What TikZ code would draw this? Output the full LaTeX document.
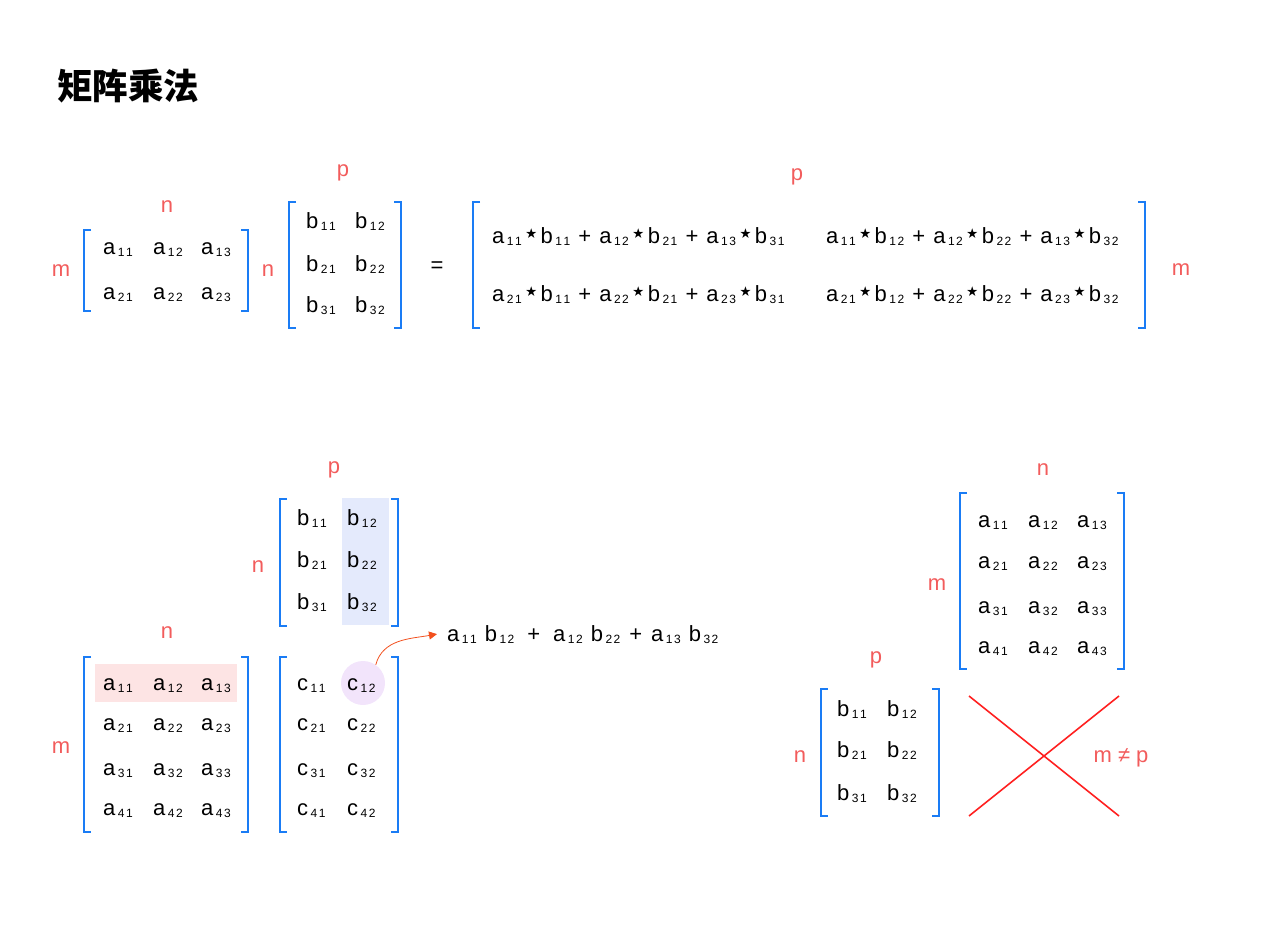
\documentclass[tikz,border=0pt]{standalone}
\usepackage{fontspec}
\setmainfont{Liberation Sans}
\newfontfamily\cjk{Noto Sans CJK SC}
\newfontfamily\symfont{DejaVu Sans}
\usetikzlibrary{arrows.meta}

\definecolor{bracketblue}{HTML}{1A7CF5}
\definecolor{labred}{HTML}{F25C5C}
\definecolor{rowred}{HTML}{FDE4E4}
\definecolor{colblue}{HTML}{E4EAFC}
\definecolor{pickpurple}{HTML}{F2E4FB}
\definecolor{linkred}{HTML}{F2501E}
\definecolor{crossred}{HTML}{FF2020}

\newcommand{\subsz}{\fontsize{12}{12}\selectfont}
\newcommand{\ent}[3]{#1\hspace{2.5pt}\raisebox{-2pt}{\subsz #2\hspace{1.5pt}#3}}
\newcommand{\mul}{\hspace{1pt}{\symfont\raisebox{0.5pt}{\fontsize{27}{27}\selectfont ⋆}}\hspace{1pt}}
\newcommand{\plus}{\hspace{2pt} + \hspace{2pt}}
% both brackets of a matrix: left x, top y, right x, bottom y
\newcommand{\brackets}[4]{%
	\draw[bracket] (#1+7,#2) -- (#1,#2) -- (#1,#4) -- (#1+7,#4);
	\draw[bracket] (#3-7,#2) -- (#3,#2) -- (#3,#4) -- (#3-7,#4);
}

\begin{document}
\begin{tikzpicture}[
				x=1pt, y=-1pt,
				bracket/.style={
					draw=bracketblue,
					line width=2pt
				},
				entry/.style={
					anchor=base west,
					inner sep=0pt,
					font=\fontsize{22}{26}\selectfont
				},
				dimlabel/.style={
					anchor=center,
					inner sep=0pt,
					text=labred,
					font=\fontsize{22}{26}\selectfont
				},
				link/.style={
					-{Triangle[length=8pt,width=8pt]},
					draw=linkred,
					line width=0.8pt
				},
				cross/.style={
					draw=crossred,
					line width=1.6pt
				}
				]
				
				\useasboundingbox (0,0) rectangle (1273,947);
				
				\node[anchor=west, inner sep=0pt, font=\cjk\bfseries\fontsize{35.5}{40}\selectfont] (title) at (57,86) {矩阵乘法};
				
				% top row: A times B
				\brackets{84}{230}{248}{311}
				\brackets{289}{202}{401}{328}
				\brackets{473}{202}{1145}{328}
				
				\node[dimlabel] (tan) at (167,207) {n};
				\node[dimlabel] (tam) at (61,271) {m};
				\node[dimlabel] (tbn) at (268,271) {n};
				\node[dimlabel] (tbp) at (343,173) {p};
				\node[dimlabel, text=black] (eq) at (437,267) {=};
				\node[dimlabel] (tcp) at (797,177) {p};
				\node[dimlabel] (tcm) at (1181,270) {m};
				
				\node[entry] (ta11) at (103,254) {\ent{a}{1}{1}};
				\node[entry] (ta12) at (153,254) {\ent{a}{1}{2}};
				\node[entry] (ta13) at (201,254) {\ent{a}{1}{3}};
				\node[entry] (ta21) at (103,299) {\ent{a}{2}{1}};
				\node[entry] (ta22) at (153,299) {\ent{a}{2}{2}};
				\node[entry] (ta23) at (201,299) {\ent{a}{2}{3}};
				
				\node[entry] (tb11) at (306,228) {\ent{b}{1}{1}};
				\node[entry] (tb12) at (355,228) {\ent{b}{1}{2}};
				\node[entry] (tb21) at (306,271) {\ent{b}{2}{1}};
				\node[entry] (tb22) at (355,271) {\ent{b}{2}{2}};
				\node[entry] (tb31) at (306,312) {\ent{b}{3}{1}};
				\node[entry] (tb32) at (355,312) {\ent{b}{3}{2}};
				
				\node[entry] (tc11) at (492,243) {\ent{a}{1}{1}\mul\ent{b}{1}{1}\plus\ent{a}{1}{2}\mul\ent{b}{2}{1}\plus\ent{a}{1}{3}\mul\ent{b}{3}{1}};
				\node[entry] (tc12) at (826,243) {\ent{a}{1}{1}\mul\ent{b}{1}{2}\plus\ent{a}{1}{2}\mul\ent{b}{2}{2}\plus\ent{a}{1}{3}\mul\ent{b}{3}{2}};
				\node[entry] (tc21) at (492,301) {\ent{a}{2}{1}\mul\ent{b}{1}{1}\plus\ent{a}{2}{2}\mul\ent{b}{2}{1}\plus\ent{a}{2}{3}\mul\ent{b}{3}{1}};
				\node[entry] (tc22) at (826,301) {\ent{a}{2}{1}\mul\ent{b}{1}{2}\plus\ent{a}{2}{2}\mul\ent{b}{2}{2}\plus\ent{a}{2}{3}\mul\ent{b}{3}{2}};
				
				% bottom left: one row of A with one column of B gives c12
				\fill[colblue] (342,498) rectangle (389,625);
				\fill[rowred] (95,664) rectangle (237,702);
				\node[circle, fill=pickpurple, minimum size=44pt, inner sep=0pt] (pick) at (363,683) {};
				
				\brackets{280}{499}{398}{626}
				\brackets{84}{657}{248}{832}
				\brackets{280}{657}{398}{832}
				
				\node[dimlabel] (bbp) at (334,470) {p};
				\node[dimlabel] (bbn) at (258,567) {n};
				\node[dimlabel] (ban) at (167,633) {n};
				\node[dimlabel] (bam) at (61,748) {m};
				
				\node[entry] (bb11) at (297,525) {\ent{b}{1}{1}};
				\node[entry] (bb12) at (347,525) {\ent{b}{1}{2}};
				\node[entry] (bb21) at (297,567) {\ent{b}{2}{1}};
				\node[entry] (bb22) at (347,567) {\ent{b}{2}{2}};
				\node[entry] (bb31) at (297,609) {\ent{b}{3}{1}};
				\node[entry] (bb32) at (347,609) {\ent{b}{3}{2}};
				
				\node[entry] (ba11) at (103,690) {\ent{a}{1}{1}};
				\node[entry] (ba12) at (153,690) {\ent{a}{1}{2}};
				\node[entry] (ba13) at (201,690) {\ent{a}{1}{3}};
				\node[entry] (ba21) at (103,730) {\ent{a}{2}{1}};
				\node[entry] (ba22) at (153,730) {\ent{a}{2}{2}};
				\node[entry] (ba23) at (201,730) {\ent{a}{2}{3}};
				\node[entry] (ba31) at (103,775) {\ent{a}{3}{1}};
				\node[entry] (ba32) at (153,775) {\ent{a}{3}{2}};
				\node[entry] (ba33) at (201,775) {\ent{a}{3}{3}};
				\node[entry] (ba41) at (103,815) {\ent{a}{4}{1}};
				\node[entry] (ba42) at (153,815) {\ent{a}{4}{2}};
				\node[entry] (ba43) at (201,815) {\ent{a}{4}{3}};
				
				\node[entry] (c11) at (297,690) {\ent{c}{1}{1}};
				\node[entry] (c12) at (347,690) {\ent{c}{1}{2}};
				\node[entry] (c21) at (297,730) {\ent{c}{2}{1}};
				\node[entry] (c22) at (347,730) {\ent{c}{2}{2}};
				\node[entry] (c31) at (297,775) {\ent{c}{3}{1}};
				\node[entry] (c32) at (347,775) {\ent{c}{3}{2}};
				\node[entry] (c41) at (297,815) {\ent{c}{4}{1}};
				\node[entry] (c42) at (347,815) {\ent{c}{4}{2}};
				
				\node[entry, inner xsep=10pt] (sum) at (437,641) {\ent{a}{1}{1}\hspace{8pt}\ent{b}{1}{2}\hspace{13pt}+\hspace{13pt}\ent{a}{1}{2}\hspace{8pt}\ent{b}{2}{2}\hspace{9pt}+\hspace{9pt}\ent{a}{1}{3}\hspace{8pt}\ent{b}{3}{2}};
				
				\draw[link] (pick.55) to[out=75, in=190] (sum.west);
				
				% bottom right: sizes that do not fit
				\brackets{960}{493}{1124}{669}
				\brackets{821}{689}{939}{816}
				
				\node[dimlabel] (ran) at (1043,470) {n};
				\node[dimlabel] (ram) at (937,585) {m};
				\node[dimlabel] (rbp) at (876,660) {p};
				\node[dimlabel] (rbn) at (800,757) {n};
				
				\node[entry] (ra11) at (978,527) {\ent{a}{1}{1}};
				\node[entry] (ra12) at (1028,527) {\ent{a}{1}{2}};
				\node[entry] (ra13) at (1077,527) {\ent{a}{1}{3}};
				\node[entry] (ra21) at (978,568) {\ent{a}{2}{1}};
				\node[entry] (ra22) at (1028,568) {\ent{a}{2}{2}};
				\node[entry] (ra23) at (1077,568) {\ent{a}{2}{3}};
				\node[entry] (ra31) at (978,613) {\ent{a}{3}{1}};
				\node[entry] (ra32) at (1028,613) {\ent{a}{3}{2}};
				\node[entry] (ra33) at (1077,613) {\ent{a}{3}{3}};
				\node[entry] (ra41) at (978,653) {\ent{a}{4}{1}};
				\node[entry] (ra42) at (1028,653) {\ent{a}{4}{2}};
				\node[entry] (ra43) at (1077,653) {\ent{a}{4}{3}};
				
				\node[entry] (rb11) at (837,716) {\ent{b}{1}{1}};
				\node[entry] (rb12) at (887,716) {\ent{b}{1}{2}};
				\node[entry] (rb21) at (837,757) {\ent{b}{2}{1}};
				\node[entry] (rb22) at (887,757) {\ent{b}{2}{2}};
				\node[entry] (rb31) at (837,800) {\ent{b}{3}{1}};
				\node[entry] (rb32) at (887,800) {\ent{b}{3}{2}};
				
				\draw[cross] (969,696) -- (1119,816);
				\draw[cross] (969,816) -- (1119,696);
				\node[dimlabel] (mnp) at (1121,758) {m ≠ p};
				
			\end{tikzpicture}
\end{document}
